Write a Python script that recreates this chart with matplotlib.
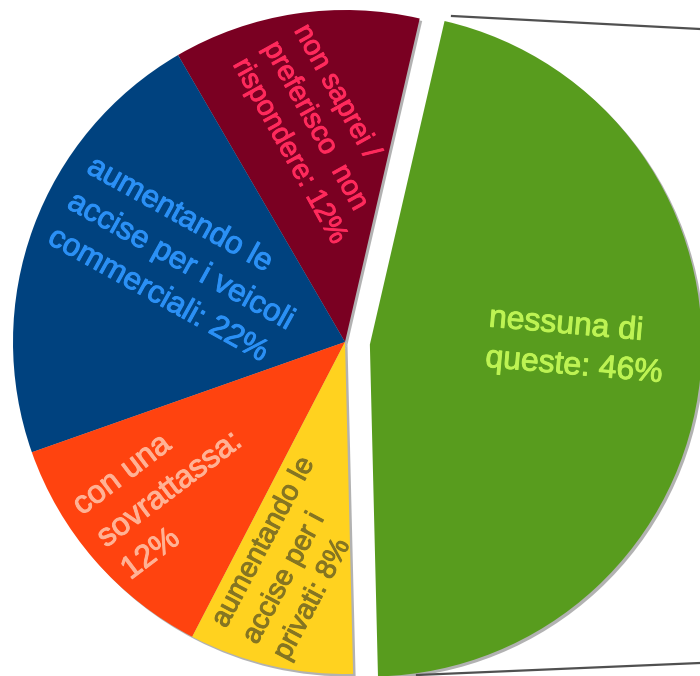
import numpy as np
import matplotlib.pyplot as plt
import matplotlib.patheffects as pe

# pie data
labels = ["non saprei /\npreferisco  non\nrispondere", "aumentando le\naccise per i veicoli\ncommerciali",
          "con una\nsovrattassa", "aumentando le\naccise per i\nprivati", "nessuna di\nqueste"]
values = [12, 22, 12, 8, 46]
seps = [" ", " ", "\n", " ", " "]
colors = ["#7a0022", "#00427f", "#ff430f", "#ffd21f", "#589c1e"]
text_colors = ["#ff2a5c", "#2b90f5", "#ffb295", "#857522", "#bdf353"]
explode = [0, 0, 0, 0, 25]

# label placement: (angle from wedge centre, distance as fraction of radius, rotation, font size)
label_pos = [(97.0, 0.63, -61, 20.5), (154.0, 0.55, -29, 22.5), (220.2, 0.69, 37, 23),
             (257, 0.67, 62, 20.5), (-0.5, 0.62, -5, 23)]

W, H = 700, 676
cx, cy, R = 345, H - 342, 332

fig = plt.figure(figsize=(7, 6.76), dpi=100)
ax = fig.add_axes([0, 0, 1, 1])

# soft shadow
ax.pie(values, colors=["#555555"] * 5, startangle=77, counterclock=True, radius=R,
       center=(cx + 2.5, cy - 2.5), explode=explode, frame=True,
       wedgeprops=dict(linewidth=0, alpha=0.45))
wedges, _ = ax.pie(values, colors=colors, startangle=77, counterclock=True, radius=R,
                   center=(cx, cy), explode=explode, frame=True,
                   wedgeprops=dict(linewidth=0))
ax.set_xlim(0, W)
ax.set_ylim(0, H)
ax.set_aspect('auto')
ax.axis('off')

for w, lab, v, s, tc, (ang, dist, rot, fs) in zip(wedges, labels, values, seps, text_colors, label_pos):
    x0, y0 = w.center
    a = np.deg2rad(ang)
    ax.text(x0 + dist * R * np.cos(a), y0 + dist * R * np.sin(a), f"{lab}:{s}{v}%",
            color=tc, fontsize=fs, family='Liberation Sans', rotation=rot,
            rotation_mode='anchor', ha='center', va='center', multialignment='left',
            linespacing=1.45,
            path_effects=[pe.withStroke(linewidth=0.7, foreground=tc)])

# connector lines to the secondary chart
ax.plot([452, 700], [H - 16, H - 29], color="#505050", lw=1.6)
ax.plot([417, 700], [H - 675, H - 663], color="#505050", lw=1.6)

fig.savefig("out.png", dpi=100)
